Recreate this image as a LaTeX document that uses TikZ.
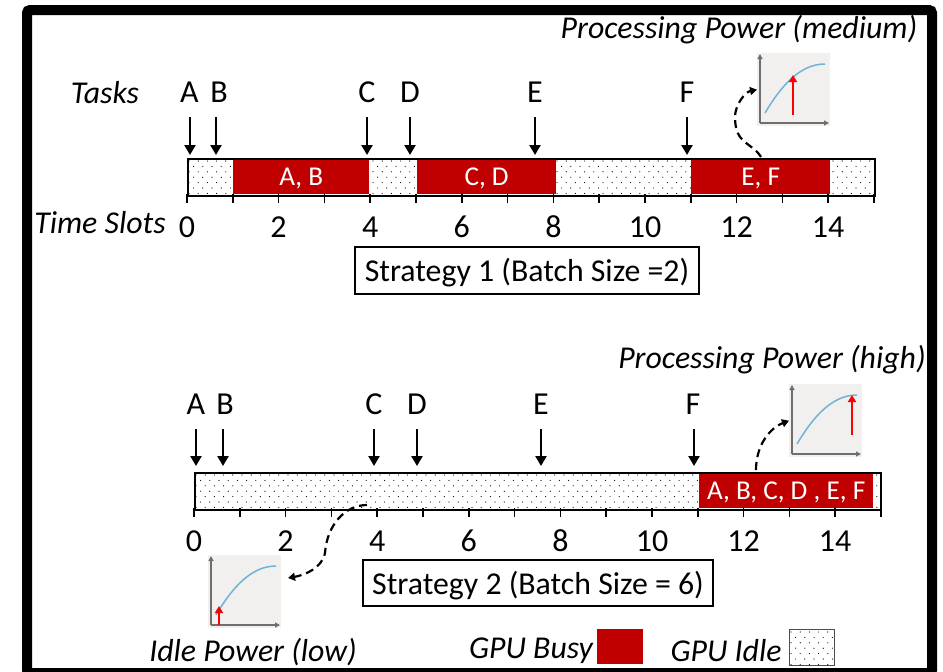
\documentclass[tikz,border=0pt]{standalone}
\usepackage{fontspec}
\setmainfont{Carlito}
\usetikzlibrary{arrows.meta}
\definecolor{busy}{HTML}{C00000}
\definecolor{chartbg}{HTML}{F2F0EE}
\definecolor{curve}{HTML}{6FB3D9}
\definecolor{axisc}{HTML}{6E6E6E}
\newcommand{\dropt}[1]{\raisebox{-2.5pt}[\height][\depth]{#1}}
\tikzset{
  x=1pt,y=-1pt,
  lab/.style={inner sep=0pt,font=\fontsize{32}{32}\selectfont},
  num/.style={inner sep=0pt,font=\fontsize{32}{32}\selectfont},
  ital/.style={inner sep=0pt,font=\fontsize{31.8}{32}\selectfont\itshape},
  seg/.style={fill=busy,inner sep=0pt,text=white,font=\fontsize{27.2}{27}\selectfont},
  stratbox/.style={draw=black,line width=2pt,fill=white,inner sep=0pt,font=\fontsize{31.8}{32}\selectfont},
  task/.style={line width=2.4pt,-{Triangle[length=10pt,width=11pt]},black},
  tickline/.style={line width=1.6pt,black},
  dashc/.style={line width=2.2pt,black,dash pattern=on 8pt off 5pt,-{Triangle[length=7pt,width=8pt]}},
  chartbox/.style={fill=chartbg,inner sep=0pt,minimum width=73pt,minimum height=73pt},
  axis/.style={line width=1.2pt,axisc,-{Triangle[length=5pt,width=5pt]}},
  curveline/.style={line width=1.5pt,curve},
  redarrow/.style={line width=2pt,red,-{Triangle[length=7pt,width=8pt]}},
}
% dotted idle fill: x1 y1 x2 y2
\newcommand{\idlefill}[4]{%
  \begin{scope}
  \clip (#1,#2) rectangle (#3,#4);
  \pgfmathsetmacro{\nrows}{int((#4-#2)/5.4)}
  \foreach \r in {0,...,\nrows}{
    \pgfmathsetmacro{\yy}{#2+3+\r*5.4}
    \pgfmathsetmacro{\off}{mod(\r,2)*4.6}
    \pgfmathsetmacro{\ncols}{int((#3-#1)/9.2)+1}
    \foreach \c in {0,...,\ncols}{
      \fill[black] ({#1+2+\off+\c*9.2},\yy) circle (0.6pt);
    }
  }
  \end{scope}}
% chart: name, left, top, red x, red tail y, red tip y
\newcommand{\chartfig}[6]{%
  \node[chartbox,anchor=north west] (#1) at (#2,#3) {};
  \coordinate (#1o) at (#2+3,#3+70);
  \coordinate (#1y) at (#2+3,#3+1);
  \coordinate (#1x) at (#2+72,#3+70);
  \draw[axis] (#1o) -- (#1y);
  \draw[axis] (#1o) -- (#1x);
  \draw[curveline] (#2+8,#3+60) .. controls (#2+24,#3+33) and (#2+43,#3+11) .. (#2+68,#3+11);
  \coordinate (#1t) at (#4,#5);
  \coordinate (#1h) at (#4,#6);
  \draw[redarrow] (#1t) -- (#1h);
}
% timeline: x0, name-prefix, top y
\newcommand{\axisticks}[3]{%
  \foreach \i in {0,...,15}{
    \draw[tickline] ({#1+\i*45.8},#3) -- ({#1+\i*45.8},#3+9);
  }
  \foreach \i in {0,2,...,14}{
    \node[num] (#2n\i) at ({#1+\i*45.8},#3+33) {\i};
  }
}
\begin{document}
\begin{tikzpicture}
\useasboundingbox (0,0) rectangle (943,672);
\fill[white] (0,0) rectangle (943,672);
\draw[line width=10pt,rounded corners=3pt,black] (27,10) rectangle (932,673);

% ---------- Strategy 1 ----------
\node[ital] (ptitleA) at (739,30) {Processing Power (medium)};
\node[ital] (tasks) at (105,93) {Tasks};
\node[ital] (slots) at (100,223) {Time Slots};
\foreach \n/\lx/\ax in {A/189.5/190,B/219/216,C/367/367,D/410/410,E/535/535,F/687/687}{
  \node[lab] (ta\n) at (\lx,92) {\n};
  \coordinate (tas\n) at (\ax,117);
  \coordinate (tae\n) at (\ax,155);
  \draw[task] (tas\n) -- (tae\n);
}
\idlefill{187}{158}{874}{194}
\node[seg,minimum width=136pt,minimum height=36pt,anchor=north west] (ab) at (233,158) {\dropt{A, B}};
\node[seg,minimum width=139pt,minimum height=36pt,anchor=north west] (cd) at (417,158) {\dropt{C, D}};
\node[seg,minimum width=139pt,minimum height=36pt,anchor=north west] (ef) at (691,158) {\dropt{E, F}};
\node[draw=black,line width=2pt,inner sep=0pt,minimum width=687pt,minimum height=37pt,anchor=north west] (barA) at (187,157.5) {};
\axisticks{187}{a}{194}
\node[stratbox,minimum width=344pt,minimum height=47pt] (stratA) at (527,270) {\dropt{Strategy 1 (Batch Size =2)}};
\chartfig{chA}{757}{53}{793}{115}{75}
\coordinate (dA) at (761,157);
\draw[dashc] (dA) .. controls (752,142) and (735,145) .. (735,117) .. controls (735,105) and (745,92) .. (chA.west);

% ---------- Strategy 2 ----------
\node[ital] (ptitleB) at (772,360) {Processing Power (high)};
\foreach \n/\lx/\ax in {A/196/196,B/225/223,C/374/374,D/417/417,E/541/541,F/693/694}{
  \node[lab] (tb\n) at (\lx,404) {\n};
  \coordinate (tbs\n) at (\ax,429);
  \coordinate (tbe\n) at (\ax,466);
  \draw[task] (tbs\n) -- (tbe\n);
}
\idlefill{194}{472}{880}{508}
\node[seg,minimum width=174pt,minimum height=36pt,anchor=north west] (all) at (699,472) {\dropt{A, B, C, D , E, F}};
\node[draw=black,line width=2pt,inner sep=0pt,minimum width=686pt,minimum height=37pt,anchor=north west] (barB) at (194,471.5) {};
\axisticks{194}{b}{508}
\node[stratbox,minimum width=350pt,minimum height=46pt] (stratB) at (538,583) {\dropt{Strategy 2 (Batch Size = 6)}};
\chartfig{chB}{789}{384}{852}{435}{395}
\coordinate (dB) at (756,470);
\draw[dashc] (dB) .. controls (756,445) and (770,428) .. (chB.west);
\chartfig{chC}{208}{555}{219}{625}{606}
\coordinate (dC) at (367,505);
\coordinate (dCe) at (288,578);
\draw[dashc] (dC) .. controls (345,505) and (327,525) .. (325,553) .. controls (322,568) and (305,575) .. (dCe);

% ---------- Legend ----------
\node[ital] (idleL) at (253,652) {Idle Power (low)};
\node[ital] (busyL) at (531,651) {GPU Busy};
\node[fill=busy,inner sep=0pt,minimum width=46pt,minimum height=35pt,anchor=north west] (busyK) at (597,629) {};
\node[ital] (idleK) at (726,651) {GPU Idle};
\idlefill{789}{629}{834}{665}
\node[draw=black!70,line width=1.2pt,inner sep=0pt,minimum width=45pt,minimum height=36pt,anchor=north west] (idleB) at (789,629) {};
\end{tikzpicture}
\end{document}
